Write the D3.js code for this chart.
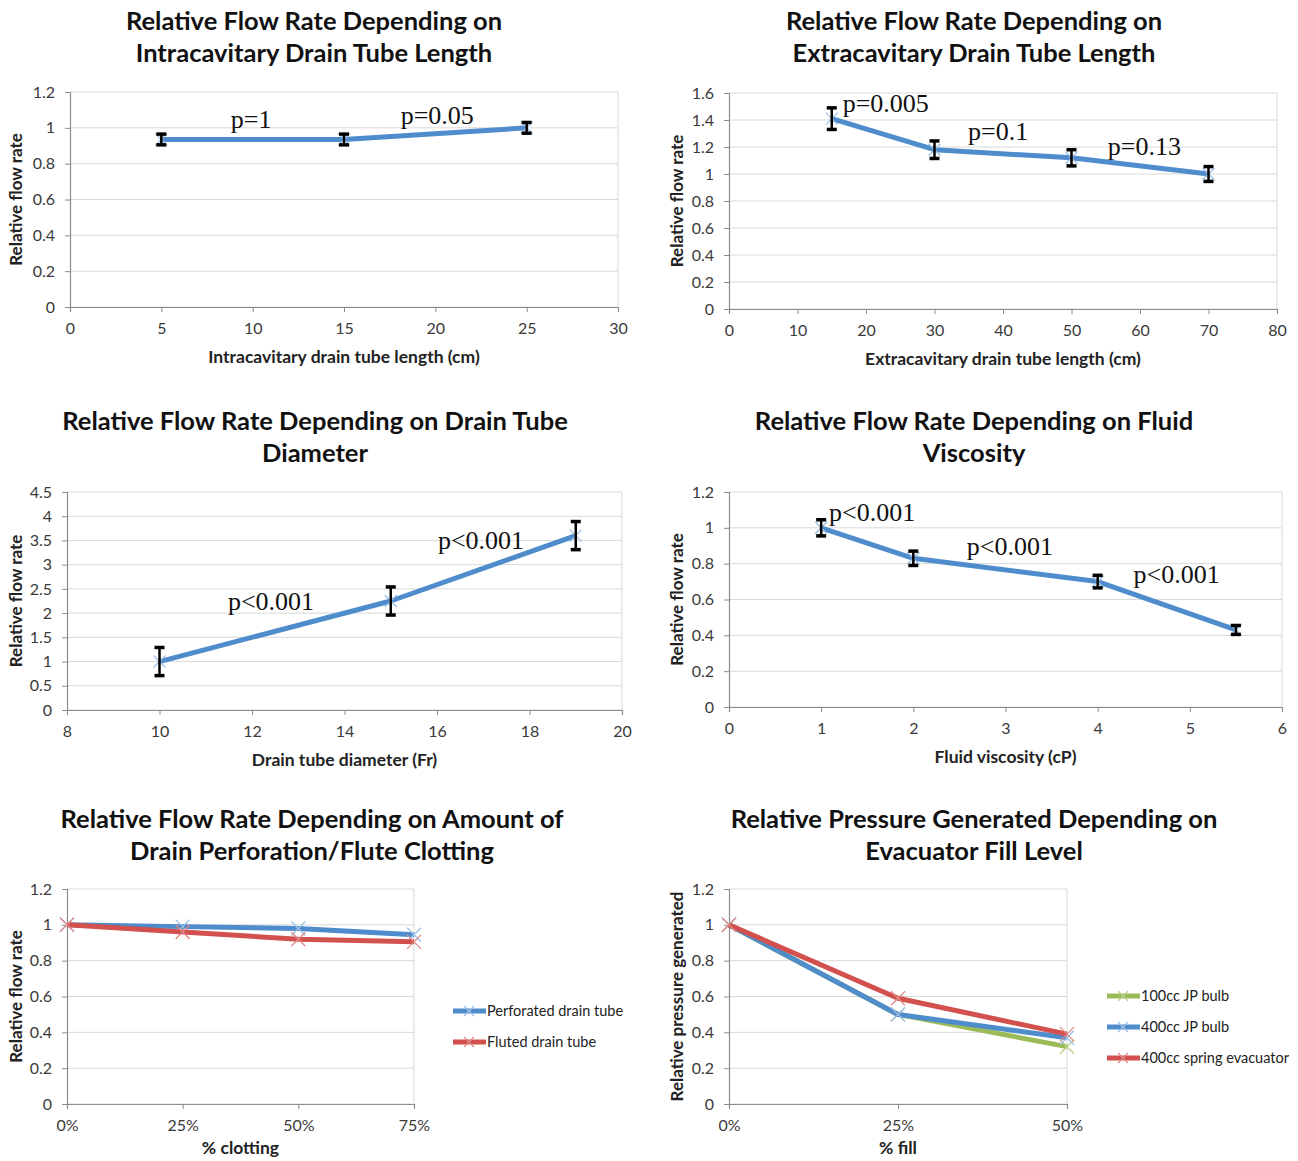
<!DOCTYPE html>
<html>
<head>
<meta charset="utf-8">
<script src="https://cdn.jsdelivr.net/npm/d3@7"></script>
<style>
  body { margin: 0; background: #fff; }
  svg { display: block; }
</style>
</head>
<body>
<div id="chart"></div>
<script>
// ---- data ----
// panel 1: intracavitary length
const intraLength = [5, 15, 25];
const intraFlow = [0.935, 0.935, 1.0];
const intraErr = [0.03, 0.03, 0.03];
const intraP = [{ x: 8.8, y: 1.0, t: "p=1" }, { x: 18.1, y: 1.02, t: "p=0.05" }];

// panel 2: extracavitary length
const extraLength = [15, 30, 50, 70];
const extraFlow = [1.41, 1.18, 1.12, 1.0];
const extraErr = [0.08, 0.065, 0.06, 0.055];
const extraP = [{ x: 16.6, y: 1.46, t: "p=0.005" }, { x: 34.9, y: 1.25, t: "p=0.1" }, { x: 55.3, y: 1.14, t: "p=0.13" }];

// panel 3: diameter
const diameter = [10, 15, 19];
const diameterFlow = [1.0, 2.25, 3.6];
const diameterErr = [0.29, 0.29, 0.29];
const diameterP = [{ x: 11.48, y: 2.07, t: "p<0.001" }, { x: 16.02, y: 3.33, t: "p<0.001" }];

// panel 4: viscosity
const viscosity = [1, 2, 4, 5.5];
const viscosityFlow = [1.0, 0.83, 0.70, 0.43];
const viscosityErr = [0.045, 0.04, 0.035, 0.025];
const viscosityP = [{ x: 1.085, y: 1.04, t: "p<0.001" }, { x: 2.58, y: 0.85, t: "p<0.001" }, { x: 4.39, y: 0.69, t: "p<0.001" }];

// panel 5: clotting
const clotCats = ["0%", "25%", "50%", "75%"];
const perforated = [1.0, 0.99, 0.98, 0.945];
const fluted = [1.0, 0.96, 0.92, 0.905];

// panel 6: fill level
const fillCats = ["0%", "25%", "50%"];
const jp100 = [1.0, 0.5, 0.32];
const jp400 = [1.0, 0.5, 0.37];
const spring400 = [1.0, 0.59, 0.39];

const BLUE = "#4e8ccb";
const RED = "#d2504d";
const GREEN = "#9bbb59";
const FONT = "Lato, 'Open Sans', sans-serif";
const SERIF = "'Liberation Serif', 'Times New Roman', serif";

const svg = d3.select("#chart")
    .append("svg")
    .attr("width", 1298)
    .attr("height", 1161);

// titles
function title(cx, y, lines) {
    lines.forEach((l, i) => {
        svg.append("text")
            .attr("x", cx)
            .attr("y", y + i * 32)
            .attr("text-anchor", "middle")
            .style("font-family", FONT)
            .style("font-weight", "bold")
            .style("font-size", "25.5px")
            .style("fill", "#111")
            .text(l);
    });
}

// common frame: gridlines, axes, labels
function frame(box, xScale, yScale, yTicks, xTicks, xFmt, xLabel, yLabel) {
    const g = svg.append("g");
    // grid
    g.selectAll(".grid")
        .data(yTicks)
        .enter()
        .append("line")
        .attr("x1", box.x0).attr("x2", box.x1)
        .attr("y1", d => yScale(d)).attr("y2", d => yScale(d))
        .attr("stroke", "#d9d9d9")
        .attr("stroke-width", 1);
    // right border
    g.append("line")
        .attr("x1", box.x1).attr("x2", box.x1)
        .attr("y1", box.y0).attr("y2", box.y1)
        .attr("stroke", "#d9d9d9");

    const yAxis = g.append("g")
        .attr("transform", `translate(${box.x0},0)`)
        .call(d3.axisLeft(yScale).tickValues(yTicks).tickSize(5).tickPadding(10).tickFormat(d3.format("")));
    const xAxis = g.append("g")
        .attr("transform", `translate(0,${box.y1})`)
        .call(d3.axisBottom(xScale).tickValues(xTicks).tickSize(5).tickPadding(11).tickFormat(xFmt));
    [xAxis, yAxis].forEach(a => {
        a.select(".domain").attr("stroke", "#8c8c8c").attr("stroke-width", 1.2);
        a.selectAll(".tick line").attr("stroke", "#8c8c8c");
        a.selectAll("text")
            .style("font-family", FONT)
            .style("font-size", "16px")
            .style("fill", "#3a3a3a");
    });

    // x-axis label
    g.append("text")
        .attr("x", (box.x0 + box.x1) / 2)
        .attr("y", box.y1 + (box.labelY || 56))
        .attr("text-anchor", "middle")
        .style("font-family", FONT)
        .style("font-weight", "bold")
        .style("font-size", "17.5px")
        .style("fill", "#222")
        .text(xLabel);

    // y-axis label
    g.append("text")
        .attr("transform", "rotate(-90)")
        .attr("x", -(box.y0 + box.y1) / 2)
        .attr("y", box.labelX)
        .attr("text-anchor", "middle")
        .style("font-family", FONT)
        .style("font-weight", "bold")
        .style("font-size", "17px")
        .style("fill", "#222")
        .text(yLabel);
}

function cross(g, x, y, color, r) {
    g.append("path")
        .attr("d", `M${x - r},${y - r}L${x + r},${y + r}M${x - r},${y + r}L${x + r},${y - r}`)
        .attr("stroke", color)
        .attr("stroke-width", 1.3)
        .attr("fill", "none");
}

function errorPanel(box, xDomain, yDomain, xTicks, yTicks, xs, ys, errs, notes, xLabel, yLabel) {
    const xScale = d3.scaleLinear().domain(xDomain).range([box.x0, box.x1]);
    const yScale = d3.scaleLinear().domain(yDomain).range([box.y1, box.y0]);
    frame(box, xScale, yScale, yTicks, xTicks, d3.format(""), xLabel, yLabel);

    const pts = xs.map((x, i) => ({ x: x, y: ys[i], e: errs[i] }));
    const g = svg.append("g");
    g.append("path")
        .datum(pts)
        .attr("d", d3.line().x(d => xScale(d.x)).y(d => yScale(d.y)))
        .attr("fill", "none")
        .attr("stroke", BLUE)
        .attr("stroke-width", 5)
        .attr("stroke-linejoin", "round");
    pts.forEach(d => cross(g, xScale(d.x), yScale(d.y), "#9cc0e6", 6));

    // error bars
    pts.forEach(d => {
        const cx = xScale(d.x);
        g.append("line")
            .attr("x1", cx).attr("x2", cx)
            .attr("y1", yScale(d.y - d.e)).attr("y2", yScale(d.y + d.e))
            .attr("stroke", "#000").attr("stroke-width", 2.5);
        [d.y - d.e, d.y + d.e].forEach(v => {
            g.append("line")
                .attr("x1", cx - 5).attr("x2", cx + 5)
                .attr("y1", yScale(v)).attr("y2", yScale(v))
                .attr("stroke", "#000").attr("stroke-width", 3.5);
        });
    });

    // p-values
    g.selectAll(".pval")
        .data(notes)
        .enter()
        .append("text")
        .attr("x", d => xScale(d.x))
        .attr("y", d => yScale(d.y))
        .style("font-family", SERIF)
        .style("font-size", "26px")
        .style("fill", "#111")
        .text(d => d.t);
}

function catPanel(box, cats, yDomain, yTicks, series, xLabel, yLabel, legend) {
    const xScale = d3.scalePoint().domain(cats).range([box.x0, box.x1]).padding(0);
    const yScale = d3.scaleLinear().domain(yDomain).range([box.y1, box.y0]);
    frame(box, xScale, yScale, yTicks, cats, d => d, xLabel, yLabel);

    const g = svg.append("g");
    series.forEach(s => {
        const pts = cats.map((c, i) => ({ c: c, v: s.values[i] }));
        g.append("path")
            .datum(pts)
            .attr("d", d3.line().x(d => xScale(d.c)).y(d => yScale(d.v)))
            .attr("fill", "none")
            .attr("stroke", s.color)
            .attr("stroke-width", 5)
            .attr("stroke-linejoin", "round");
        pts.forEach(d => cross(g, xScale(d.c), yScale(d.v), s.marker, 7));
    });

    // legend
    series.forEach((s, i) => {
        const ly = legend.y + i * legend.step;
        g.append("line")
            .attr("x1", legend.x).attr("x2", legend.x + 33)
            .attr("y1", ly).attr("y2", ly)
            .attr("stroke", s.color).attr("stroke-width", 5);
        cross(g, legend.x + 16, ly, s.marker, 5);
        g.append("text")
            .attr("x", legend.x + 34)
            .attr("y", ly + 5)
            .style("font-family", FONT)
            .style("font-size", "14.5px")
            .style("fill", "#222")
            .text(s.name);
    });
}

// ---- panels ----
title(314, 30, ["Relative Flow Rate Depending on", "Intracavitary Drain Tube Length"]);
errorPanel({ x0: 70, x1: 618, y0: 92, y1: 307, labelX: 22 },
    [0, 30], [0, 1.2], d3.range(0, 31, 5), d3.range(0, 1.21, 0.2).map(v => +v.toFixed(1)),
    intraLength, intraFlow, intraErr, intraP,
    "Intracavitary drain tube length (cm)", "Relative flow rate");

title(974, 30, ["Relative Flow Rate Depending on", "Extracavitary Drain Tube Length"]);
errorPanel({ x0: 729, x1: 1277, y0: 93, y1: 309, labelX: 683 },
    [0, 80], [0, 1.6], d3.range(0, 81, 10), d3.range(0, 1.61, 0.2).map(v => +v.toFixed(1)),
    extraLength, extraFlow, extraErr, extraP,
    "Extracavitary drain tube length (cm)", "Relative flow rate");

title(315, 430, ["Relative Flow Rate Depending on Drain Tube", "Diameter"]);
errorPanel({ x0: 67, x1: 622, y0: 492, y1: 710, labelX: 22 },
    [8, 20], [0, 4.5], d3.range(8, 21, 2), d3.range(0, 4.51, 0.5),
    diameter, diameterFlow, diameterErr, diameterP,
    "Drain tube diameter (Fr)", "Relative flow rate");

title(974, 430, ["Relative Flow Rate Depending on Fluid", "Viscosity"]);
errorPanel({ x0: 729, x1: 1282, y0: 492, y1: 707, labelX: 683 },
    [0, 6], [0, 1.2], d3.range(0, 7, 1), d3.range(0, 1.21, 0.2).map(v => +v.toFixed(1)),
    viscosity, viscosityFlow, viscosityErr, viscosityP,
    "Fluid viscosity (cP)", "Relative flow rate");

title(312, 828, ["Relative Flow Rate Depending on Amount of", "Drain Perforation/Flute Clotting"]);
catPanel({ x0: 67, x1: 414, y0: 889, y1: 1104, labelX: 22, labelY: 50 },
    clotCats, [0, 1.2], d3.range(0, 1.21, 0.2).map(v => +v.toFixed(1)),
    [
        { name: "Perforated drain tube", values: perforated, color: BLUE, marker: "#9cc0e6" },
        { name: "Fluted drain tube", values: fluted, color: RED, marker: "#e08a88" }
    ],
    "% clotting", "Relative flow rate", { x: 453, y: 1011, step: 31 });

title(974, 828, ["Relative Pressure Generated Depending on", "Evacuator Fill Level"]);
catPanel({ x0: 729, x1: 1067, y0: 889, y1: 1104, labelX: 683, labelY: 50 },
    fillCats, [0, 1.2], d3.range(0, 1.21, 0.2).map(v => +v.toFixed(1)),
    [
        { name: "100cc JP bulb", values: jp100, color: GREEN, marker: "#b9d08a" },
        { name: "400cc JP bulb", values: jp400, color: BLUE, marker: "#9cc0e6" },
        { name: "400cc spring evacuator", values: spring400, color: RED, marker: "#e08a88" }
    ],
    "% fill", "Relative pressure generated", { x: 1107, y: 996, step: 31 });
</script>
</body>
</html>
